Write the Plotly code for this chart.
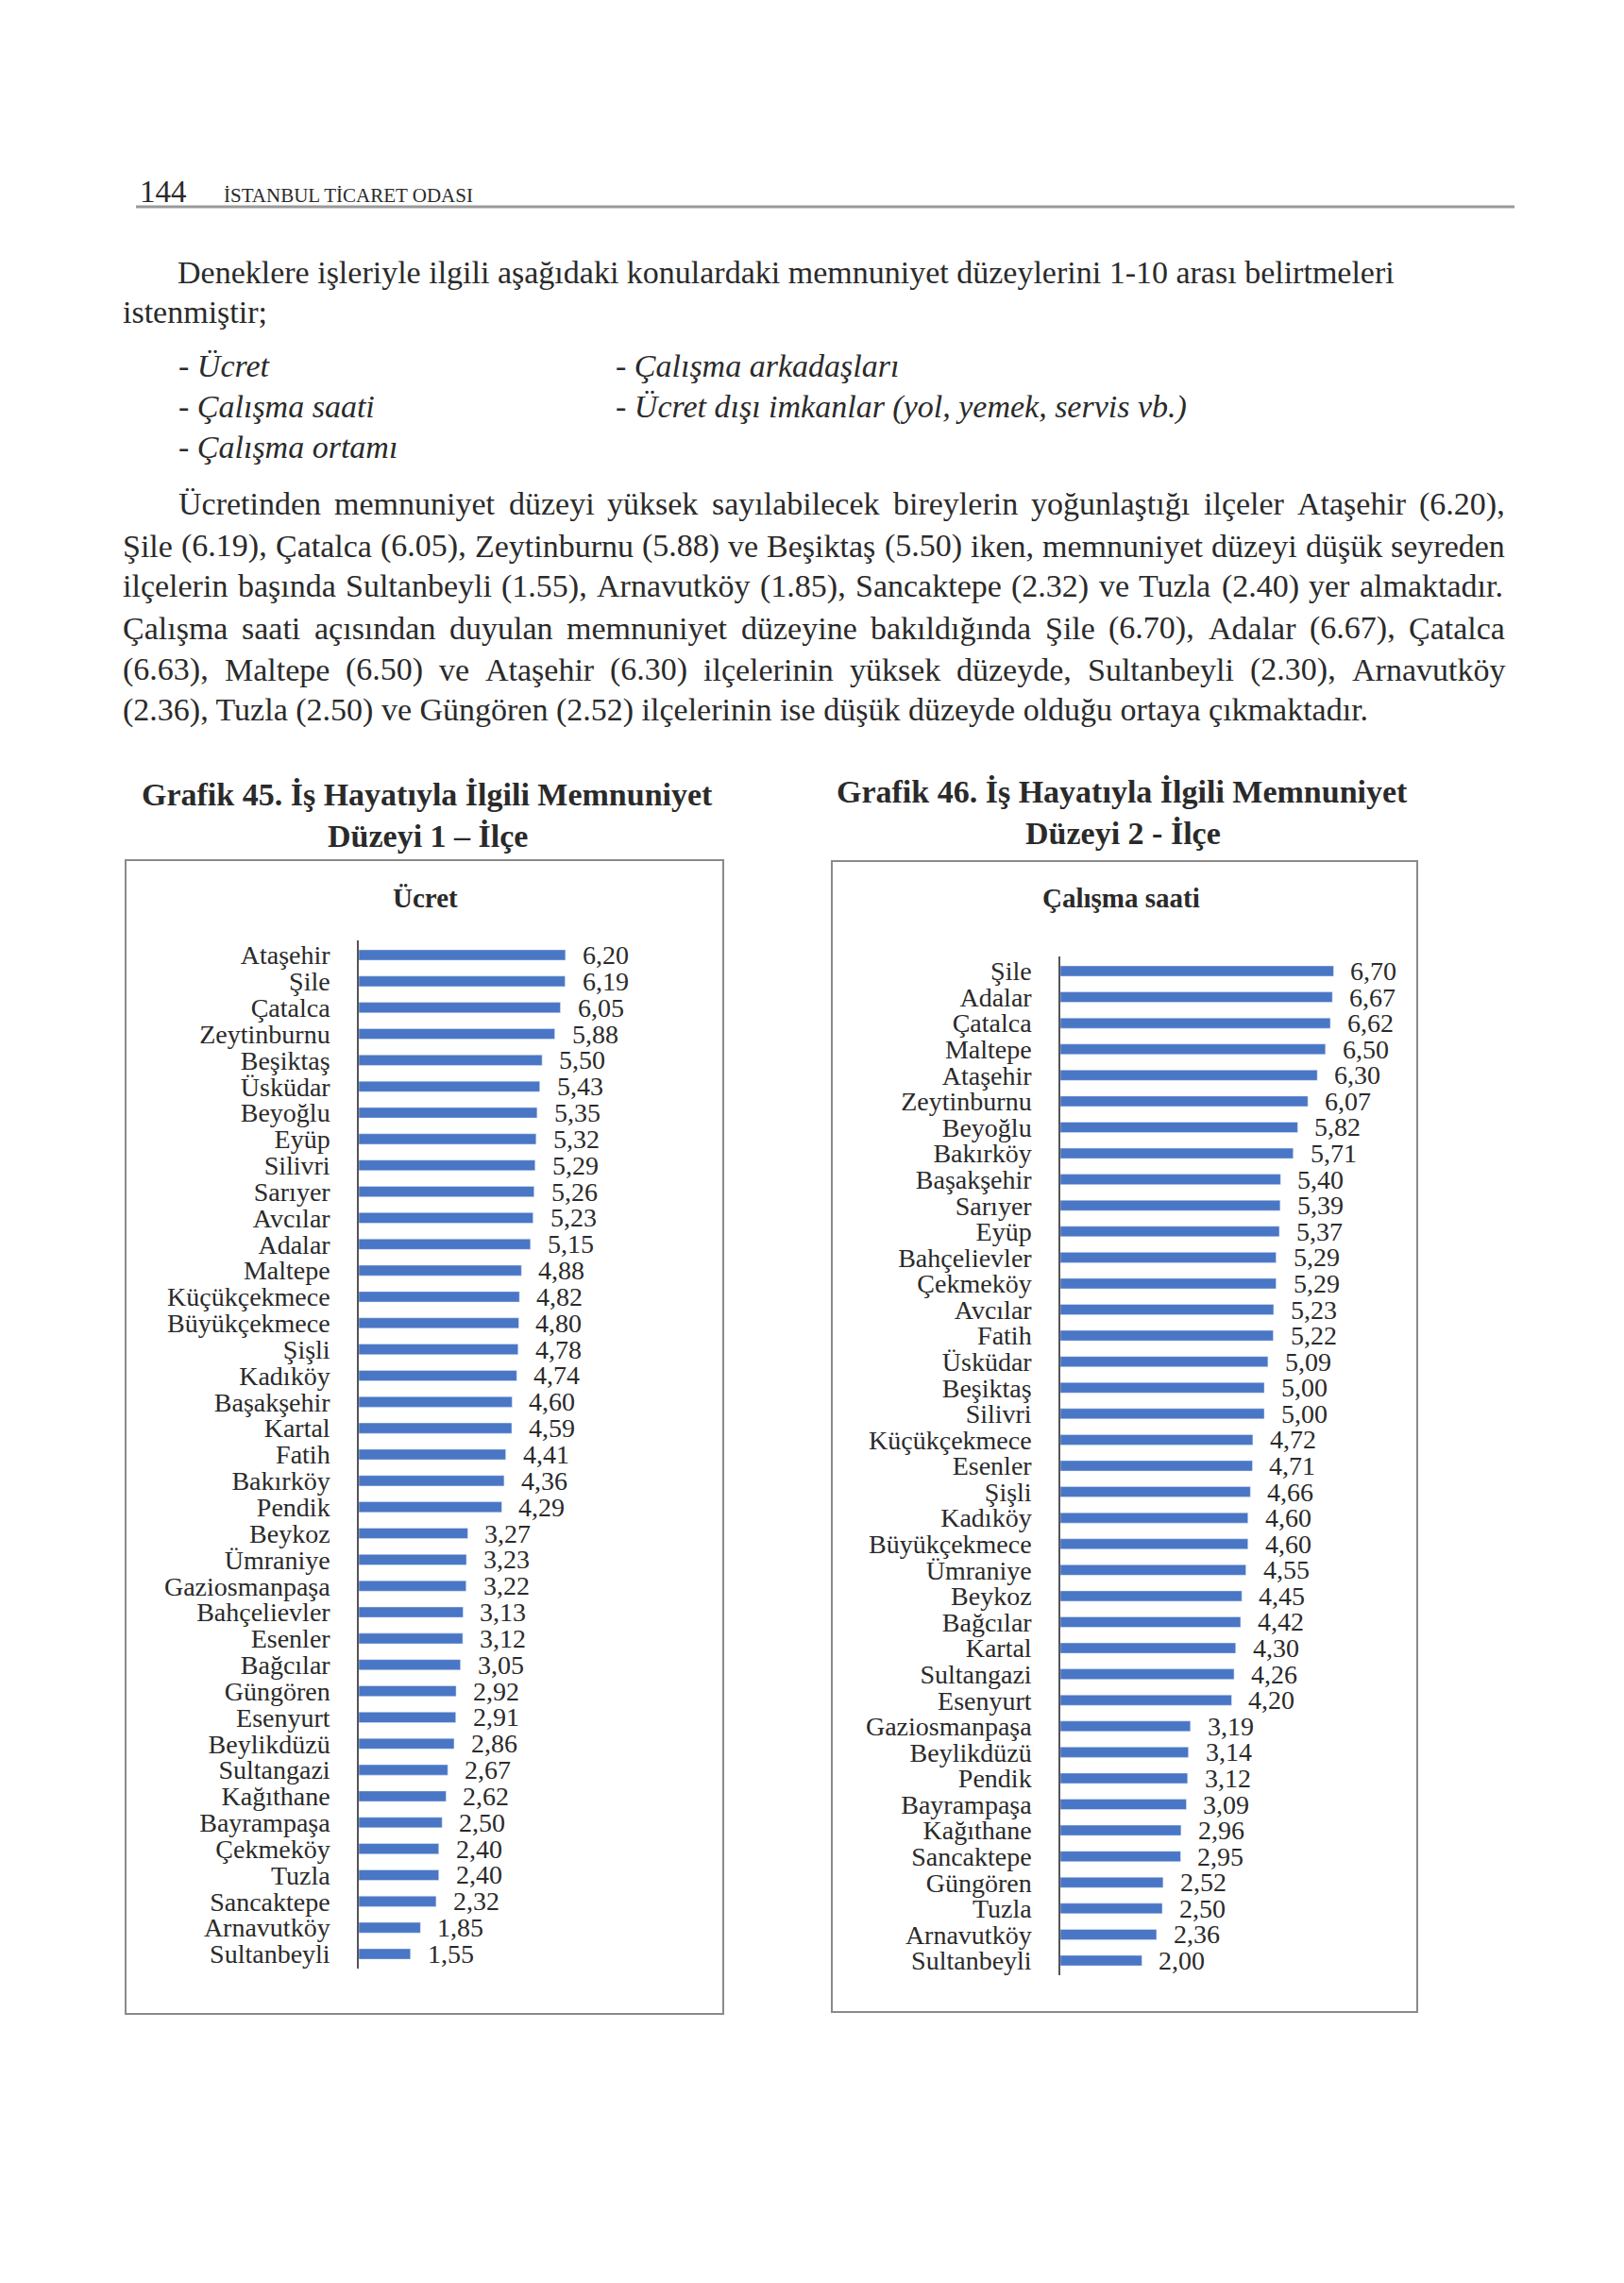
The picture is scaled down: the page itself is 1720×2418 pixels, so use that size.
import plotly.graph_objects as go

# ---------------- data ----------------
ucret_districts = ["Ataşehir", "Şile", "Çatalca", "Zeytinburnu", "Beşiktaş", "Üsküdar", "Beyoğlu", "Eyüp",
                   "Silivri", "Sarıyer", "Avcılar", "Adalar", "Maltepe", "Küçükçekmece", "Büyükçekmece", "Şişli",
                   "Kadıköy", "Başakşehir", "Kartal", "Fatih", "Bakırköy", "Pendik", "Beykoz", "Ümraniye",
                   "Gaziosmanpaşa", "Bahçelievler", "Esenler", "Bağcılar", "Güngören", "Esenyurt", "Beylikdüzü",
                   "Sultangazi", "Kağıthane", "Bayrampaşa", "Çekmeköy", "Tuzla", "Sancaktepe", "Arnavutköy",
                   "Sultanbeyli"]
ucret_values = [6.20, 6.19, 6.05, 5.88, 5.50, 5.43, 5.35, 5.32, 5.29, 5.26, 5.23, 5.15, 4.88, 4.82, 4.80, 4.78,
                4.74, 4.60, 4.59, 4.41, 4.36, 4.29, 3.27, 3.23, 3.22, 3.13, 3.12, 3.05, 2.92, 2.91, 2.86, 2.67,
                2.62, 2.50, 2.40, 2.40, 2.32, 1.85, 1.55]

saat_districts = ["Şile", "Adalar", "Çatalca", "Maltepe", "Ataşehir", "Zeytinburnu", "Beyoğlu", "Bakırköy",
                  "Başakşehir", "Sarıyer", "Eyüp", "Bahçelievler", "Çekmeköy", "Avcılar", "Fatih", "Üsküdar",
                  "Beşiktaş", "Silivri", "Küçükçekmece", "Esenler", "Şişli", "Kadıköy", "Büyükçekmece", "Ümraniye",
                  "Beykoz", "Bağcılar", "Kartal", "Sultangazi", "Esenyurt", "Gaziosmanpaşa", "Beylikdüzü", "Pendik",
                  "Bayrampaşa", "Kağıthane", "Sancaktepe", "Güngören", "Tuzla", "Arnavutköy", "Sultanbeyli"]
saat_values = [6.70, 6.67, 6.62, 6.50, 6.30, 6.07, 5.82, 5.71, 5.40, 5.39, 5.37, 5.29, 5.29, 5.23, 5.22, 5.09,
               5.00, 5.00, 4.72, 4.71, 4.66, 4.60, 4.60, 4.55, 4.45, 4.42, 4.30, 4.26, 4.20, 3.19, 3.14, 3.12,
               3.09, 2.96, 2.95, 2.52, 2.50, 2.36, 2.00]

chart1_title = ["Grafik 45. İş Hayatıyla İlgili Memnuniyet", "Düzeyi 1 – İlçe"]
chart2_title = ["Grafik 46. İş Hayatıyla İlgili Memnuniyet", "Düzeyi 2 - İlçe"]
chart1_sub = "Ücret"
chart2_sub = "Çalışma saati"

# ---------------- page geometry helpers ----------------
W, H = 1720, 2418
SERIF = "Liberation Serif"
INK = "#2a2a2a"
BAR = "#4a76c6"
LABEL_SIZE = 28


def px(x):
    return x / W


def py(y):
    return 1 - y / H


annotations = []


def text(x, y, s, size=34, anchor="left", bold=False, italic=False, color=INK):
    if bold:
        s = "<b>" + s + "</b>"
    if italic:
        s = "<i>" + s + "</i>"
    annotations.append(dict(x=px(x), y=py(y), xref="paper", yref="paper", text=s, showarrow=False,
                            xanchor=anchor, yanchor="middle", borderpad=0, borderwidth=0,
                            font=dict(family=SERIF, size=size, color=color)))


# Times / Liberation Serif advance widths (1/1000 em)
_W = dict(A=722, B=667, C=667, D=722, E=611, F=556, G=722, H=722, I=333, J=389, K=722, L=611, M=889, N=722,
          O=722, P=556, Q=722, R=667, S=556, T=611, U=722, V=722, W=944, X=722, Y=722, Z=611,
          a=444, b=500, c=444, d=500, e=444, f=333, g=500, h=500, i=278, j=278, k=500, l=278, m=778, n=500,
          o=500, p=500, q=500, r=333, s=389, t=278, u=500, v=500, w=722, x=500, y=500, z=444)
_W.update({" ": 250, ",": 250, ".": 250, "(": 333, ")": 333, "-": 333, ";": 278, ":": 278})
for d in "0123456789":
    _W[d] = 500
_MAP = {"ş": "s", "ğ": "g", "ı": "i", "ç": "c", "ü": "u", "ö": "o", "İ": "I", "Ş": "S", "Ç": "C",
        "Ü": "U", "Ö": "O", "Ğ": "G"}


def width(s, size):
    return sum(_W.get(_MAP.get(ch, ch), 500) for ch in s) * size / 1000.0


def justified(x0, x1, y, line, size=34):
    words = line.split(" ")
    total = sum(width(w, size) for w in words)
    gap = (x1 - x0 - total) / (len(words) - 1)
    x = x0
    for w in words:
        text(x, y, w, size=size)
        x += width(w, size) + gap


# ---------------- page text ----------------
text(148, 203, "144", size=33)
text(237, 207, "İSTANBUL TİCARET ODASI", size=21)

text(188, 288, "Deneklere işleriyle ilgili aşağıdaki konulardaki memnuniyet düzeylerini 1-10 arası belirtmeleri")
text(130, 330, "istenmiştir;")
text(189, 387, "- Ücret", italic=True)
text(652, 387, "- Çalışma arkadaşları", italic=True)
text(189, 431, "- Çalışma saati", italic=True)
text(652, 431, "- Ücret dışı imkanlar (yol, yemek, servis vb.)", italic=True)
text(189, 474, "- Çalışma ortamı", italic=True)

justified(189, 1594, 534, "Ücretinden memnuniyet düzeyi yüksek sayılabilecek bireylerin yoğunlaştığı ilçeler Ataşehir (6.20),")
justified(130, 1594, 578, "Şile (6.19), Çatalca (6.05), Zeytinburnu (5.88) ve Beşiktaş (5.50) iken, memnuniyet düzeyi düşük seyreden")
justified(130, 1594, 621, "ilçelerin başında Sultanbeyli (1.55), Arnavutköy (1.85), Sancaktepe (2.32) ve Tuzla (2.40) yer almaktadır.")
justified(130, 1594, 665, "Çalışma saati açısından duyulan memnuniyet düzeyine bakıldığında Şile (6.70), Adalar (6.67), Çatalca")
justified(130, 1594, 709, "(6.63), Maltepe (6.50) ve Ataşehir (6.30) ilçelerinin yüksek düzeyde, Sultanbeyli (2.30), Arnavutköy")
text(130, 752, "(2.36), Tuzla (2.50) ve Güngören (2.52) ilçelerinin ise düşük düzeyde olduğu ortaya çıkmaktadır.")

# chart titles
text(452, 841, chart1_title[0], size=34, anchor="center", bold=True)
text(453, 885, chart1_title[1], size=34, anchor="center", bold=True)
text(1188, 838, chart2_title[0], size=34, anchor="center", bold=True)
text(1189, 882, chart2_title[1], size=34, anchor="center", bold=True)
text(450, 951, chart1_sub, size=29, anchor="center", bold=True)
text(1187, 951, chart2_sub, size=29, anchor="center", bold=True)

# ---------------- charts ----------------
fig = go.Figure()
fig.add_trace(go.Bar(x=ucret_values, y=ucret_districts, orientation="h", marker_color=BAR, width=0.4,
                     xaxis="x", yaxis="y", showlegend=False, hoverinfo="x+y"))
fig.add_trace(go.Bar(x=saat_values, y=saat_districts, orientation="h", marker_color=BAR, width=0.4,
                     xaxis="x2", yaxis="y2", showlegend=False, hoverinfo="x+y"))


def fmt(v):
    return f"{v:.2f}".replace(".", ",")


for vals, cats, xr, yr in [(ucret_values, ucret_districts, "x", "y"), (saat_values, saat_districts, "x2", "y2")]:
    for v, c in zip(vals, cats):
        annotations.append(dict(x=v, y=c, xref=xr, yref=yr, text=fmt(v), showarrow=False, xanchor="left",
                                yanchor="middle", xshift=18, borderpad=0, borderwidth=0,
                                font=dict(family=SERIF, size=LABEL_SIZE, color=INK)))

xaxis_common = dict(showgrid=False, zeroline=False, showticklabels=False, showline=False, ticks="",
                    fixedrange=True)
yaxis_common = dict(type="category", autorange="reversed", showgrid=False, zeroline=False, showline=True,
                    linecolor="#555555", linewidth=1.5, ticks="", ticklabelstandoff=23,
                    tickfont=dict(family=SERIF, size=LABEL_SIZE, color=INK))

fig.update_layout(
    width=W, height=H, margin=dict(l=0, r=0, t=0, b=0),
    paper_bgcolor="white", plot_bgcolor="white", bargap=0.6,
    xaxis=dict(domain=[px(380), px(733)], range=[0, 10], anchor="y", **xaxis_common),
    yaxis=dict(domain=[py(2085), py(996)], anchor="x", tickmode="array", tickvals=ucret_districts,
               ticktext=ucret_districts, **yaxis_common),
    xaxis2=dict(domain=[px(1123), px(1468.6)], range=[0, 8], anchor="y2", **xaxis_common),
    yaxis2=dict(domain=[py(2092), py(1013)], anchor="x2", tickmode="array", tickvals=saat_districts,
                ticktext=saat_districts, **yaxis_common),
    annotations=annotations,
    shapes=[
        dict(type="line", xref="paper", yref="paper", x0=px(144), x1=px(1604), y0=py(219), y1=py(219),
             line=dict(color="#9a9a9a", width=3)),
        dict(type="rect", xref="paper", yref="paper", x0=px(133), x1=px(766), y0=py(2133), y1=py(911),
             line=dict(color="#8a8a8a", width=2)),
        dict(type="rect", xref="paper", yref="paper", x0=px(881), x1=px(1501), y0=py(2131), y1=py(912),
             line=dict(color="#8a8a8a", width=2)),
    ],
)

fig.write_html("out.html")
